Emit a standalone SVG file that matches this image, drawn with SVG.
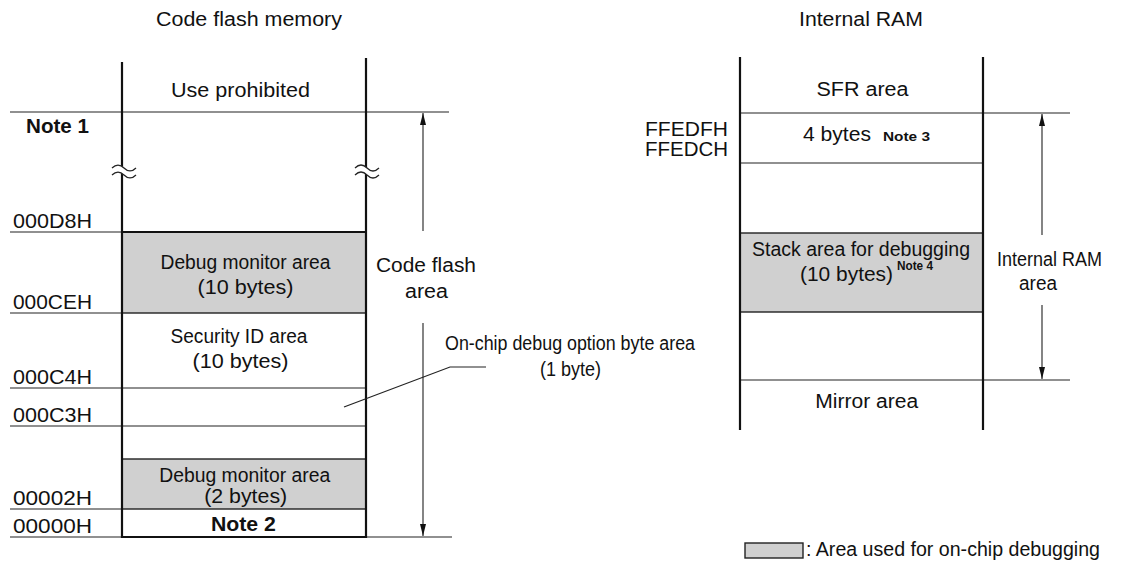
<svg xmlns="http://www.w3.org/2000/svg" width="1127" height="563" viewBox="0 0 1127 563">
<style>
text{font-family:"Liberation Sans",Arial,sans-serif;fill:#111;font-size:20px}
.m{text-anchor:middle}
.e{text-anchor:end}
.b{font-weight:bold}
.s{font-size:12.5px;font-weight:bold}
.thick{stroke:#111;stroke-width:2.2;fill:none}
.thin{stroke:#222;stroke-width:1.2;fill:none}
.gray{fill:#d0d0d0;stroke:#222;stroke-width:1.4}
.arr{stroke:#333;stroke-width:1.2;fill:none}
.wave{stroke:#222;stroke-width:1.2;fill:none}
</style>
<defs>
<marker id="ah" viewBox="0 0 12 6" refX="12" refY="3" markerWidth="12" markerHeight="6" markerUnits="userSpaceOnUse" orient="auto">
<path d="M0,0 L12,3 L0,6 z" fill="#111"/>
</marker>
</defs>

<g id="titles">
<text class="m" x="249" y="26" textLength="186" lengthAdjust="spacingAndGlyphs">Code flash memory</text>
<text class="m" x="861" y="26" textLength="124" lengthAdjust="spacingAndGlyphs">Internal RAM</text>
</g>

<g id="code-flash-map">
<rect class="gray" x="122" y="232" width="244" height="81"/>
<rect class="gray" x="122" y="459" width="244" height="50"/>
<line class="thin" x1="10" y1="112" x2="449" y2="112"/>
<line class="thin" x1="10" y1="232" x2="122" y2="232"/>
<line class="thick" x1="122" y1="232" x2="366" y2="232"/>
<line class="thin" x1="10" y1="313" x2="122" y2="313"/>
<line class="thin" x1="10" y1="388" x2="366" y2="388"/>
<line class="thin" x1="10" y1="426" x2="366" y2="426"/>
<line class="thin" x1="10" y1="509" x2="122" y2="509"/>
<line class="thin" x1="10" y1="537" x2="122" y2="537"/>
<line class="thin" x1="366" y1="537" x2="452" y2="537"/>
<line class="thick" x1="122" y1="537" x2="366" y2="537"/>
<line class="thick" x1="122" y1="62" x2="122" y2="538"/>
<line class="thick" x1="366" y1="58" x2="366" y2="538"/>
</g>

<g id="breaks">
<path d="M112,168 C116,164 120,164 124,168 C128,172 132,172 136,168 L136,175 C132,179 128,179 124,175 C120,171 116,171 112,175 Z" fill="#fff" stroke="none"/>
<path class="wave" d="M112,168 C116,164 120,164 124,168 C128,172 132,172 136,168"/>
<path class="wave" d="M112,175 C116,171 120,171 124,175 C128,179 132,179 136,175"/>
<path d="M355,168 C359,164 363,164 367,168 C371,172 375,172 379,168 L379,175 C375,179 371,179 367,175 C363,171 359,171 355,175 Z" fill="#fff" stroke="none"/>
<path class="wave" d="M355,168 C359,164 363,164 367,168 C371,172 375,172 379,168"/>
<path class="wave" d="M355,175 C359,171 363,171 367,175 C371,179 375,179 379,175"/>
</g>

<g id="code-flash-labels">
<text class="m" x="240.5" y="97" textLength="139" lengthAdjust="spacingAndGlyphs">Use prohibited</text>
<text class="b" x="26" y="133" textLength="63" lengthAdjust="spacingAndGlyphs">Note 1</text>
<text x="13" y="228" textLength="79" lengthAdjust="spacingAndGlyphs">000D8H</text>
<text x="13" y="309" textLength="79" lengthAdjust="spacingAndGlyphs">000CEH</text>
<text x="13" y="384" textLength="79" lengthAdjust="spacingAndGlyphs">000C4H</text>
<text x="13" y="422" textLength="79" lengthAdjust="spacingAndGlyphs">000C3H</text>
<text x="13" y="505" textLength="79" lengthAdjust="spacingAndGlyphs">00002H</text>
<text x="13" y="533" textLength="79" lengthAdjust="spacingAndGlyphs">00000H</text>
<text class="m" x="245.5" y="269" textLength="170" lengthAdjust="spacingAndGlyphs">Debug monitor area</text>
<text class="m" x="245.5" y="294" textLength="96" lengthAdjust="spacingAndGlyphs">(10 bytes)</text>
<text class="m" x="239" y="343" textLength="137" lengthAdjust="spacingAndGlyphs">Security ID area</text>
<text class="m" x="240.5" y="368" textLength="96" lengthAdjust="spacingAndGlyphs">(10 bytes)</text>
<text class="m" x="244.7" y="482" textLength="171" lengthAdjust="spacingAndGlyphs">Debug monitor area</text>
<text class="m" x="245.7" y="503" textLength="83" lengthAdjust="spacingAndGlyphs">(2 bytes)</text>
<text class="m b" x="243.4" y="531" textLength="65" lengthAdjust="spacingAndGlyphs">Note 2</text>
<text class="m" x="426" y="272" textLength="100" lengthAdjust="spacingAndGlyphs">Code flash</text>
<text class="m" x="426.5" y="298" textLength="43" lengthAdjust="spacingAndGlyphs">area</text>
<text class="m" x="570" y="350" font-size="18.5" textLength="250" lengthAdjust="spacingAndGlyphs">On-chip debug option byte area</text>
<text class="m" x="570.5" y="376" font-size="18.5" textLength="61" lengthAdjust="spacingAndGlyphs">(1 byte)</text>
</g>

<g id="ram-map">
<rect class="gray" x="740" y="233" width="243" height="79"/>
<line class="thin" x1="740" y1="113" x2="1070" y2="113"/>
<line class="thin" x1="740" y1="163" x2="983" y2="163"/>
<line class="thin" x1="740" y1="380" x2="1070" y2="380"/>
<line class="thick" x1="740" y1="57" x2="740" y2="430"/>
<line class="thick" x1="983" y1="57" x2="983" y2="430"/>
</g>

<g id="ram-labels">
<text class="m" x="862.5" y="96" textLength="92" lengthAdjust="spacingAndGlyphs">SFR area</text>
<text class="e" x="728" y="136" textLength="83" lengthAdjust="spacingAndGlyphs">FFEDFH</text>
<text class="e" x="728" y="156" textLength="83" lengthAdjust="spacingAndGlyphs">FFEDCH</text>
<text x="803" y="141" textLength="68" lengthAdjust="spacingAndGlyphs">4 bytes</text>
<text class="s" x="883" y="141" textLength="47" lengthAdjust="spacingAndGlyphs">Note 3</text>
<text class="m" x="861" y="256" textLength="218" lengthAdjust="spacingAndGlyphs">Stack area for debugging</text>
<text x="800" y="281" textLength="93" lengthAdjust="spacingAndGlyphs">(10 bytes)</text>
<text class="s" x="897" y="270" textLength="36" lengthAdjust="spacingAndGlyphs">Note 4</text>
<text class="m" x="1049.5" y="266" textLength="105" lengthAdjust="spacingAndGlyphs">Internal RAM</text>
<text class="m" x="1038" y="290" textLength="38" lengthAdjust="spacingAndGlyphs">area</text>
<text class="m" x="866.7" y="408" textLength="103" lengthAdjust="spacingAndGlyphs">Mirror area</text>
</g>

<g id="connectors">
<line class="arr" x1="423" y1="231" x2="423" y2="113" marker-end="url(#ah)"/>
<line class="arr" x1="423" y1="323" x2="423" y2="536" marker-end="url(#ah)"/>
<line class="arr" x1="1042" y1="235" x2="1042" y2="114" marker-end="url(#ah)"/>
<line class="arr" x1="1042" y1="305" x2="1042" y2="379" marker-end="url(#ah)"/>
<polyline class="thin" points="344,407 450,367 486,367"/>
</g>

<g id="legend">
<rect class="gray" x="745" y="543" width="58" height="15"/>
<text x="806" y="556" textLength="294" lengthAdjust="spacingAndGlyphs">: Area used for on-chip debugging</text>
</g>
</svg>
